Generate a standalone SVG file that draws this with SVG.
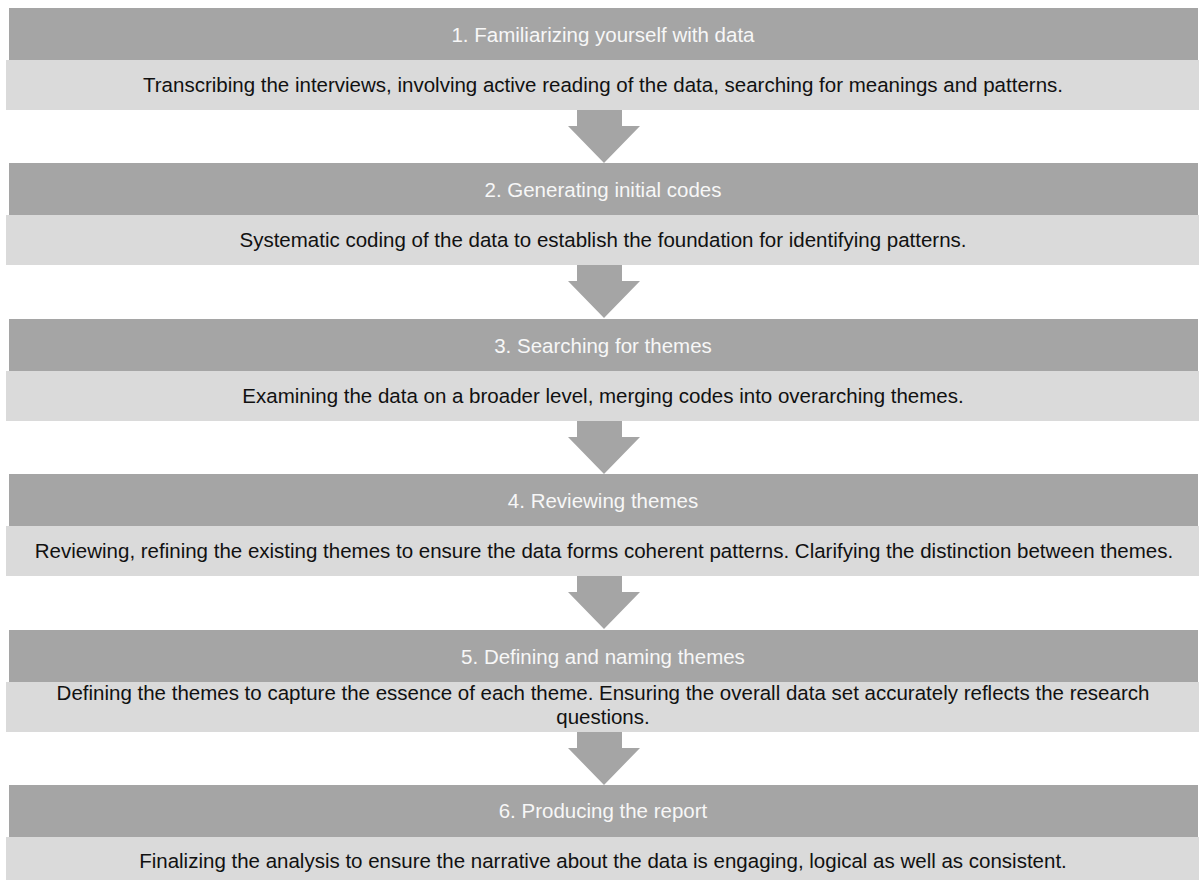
<svg xmlns="http://www.w3.org/2000/svg" width="1199" height="880" viewBox="0 0 1199 880">
<style>
.hd{fill:#a5a5a5}
.bd{fill:#dadada}
.ht{font-family:"Liberation Sans",Arial,sans-serif;font-size:20.5px;fill:#f7f7f7;text-anchor:middle}
.bt{font-family:"Liberation Sans",Arial,sans-serif;font-size:20.5px;fill:#111;text-anchor:middle}
.ar{fill:#a5a5a5}
</style>
<rect width="1199" height="880" fill="#fff"/>
<g id="step1">
<rect class="hd" x="9" y="8" width="1189" height="52"/>
<rect class="bd" x="6" y="60" width="1193" height="50"/>
<text class="ht" x="603" y="42">1. Familiarizing yourself with data</text>
<text class="bt" x="603" y="92">Transcribing the interviews, involving active reading of the data, searching for meanings and patterns.</text>
</g>
<g id="step2">
<rect class="hd" x="9" y="163" width="1189" height="52"/>
<rect class="bd" x="6" y="215" width="1193" height="50"/>
<text class="ht" x="603" y="197">2. Generating initial codes</text>
<text class="bt" x="603" y="247">Systematic coding of the data to establish the foundation for identifying patterns.</text>
</g>
<g id="step3">
<rect class="hd" x="9" y="319" width="1189" height="52"/>
<rect class="bd" x="6" y="371" width="1193" height="50"/>
<text class="ht" x="603" y="353">3. Searching for themes</text>
<text class="bt" x="603" y="403">Examining the data on a broader level, merging codes into overarching themes.</text>
</g>
<g id="step4">
<rect class="hd" x="9" y="474" width="1189" height="52"/>
<rect class="bd" x="6" y="526" width="1193" height="50"/>
<text class="ht" x="603" y="508">4. Reviewing themes</text>
<text class="bt" x="604" y="558">Reviewing, refining the existing themes to ensure the data forms coherent patterns. Clarifying the distinction between themes.</text>
</g>
<g id="step5">
<rect class="hd" x="9" y="630" width="1189" height="52"/>
<rect class="bd" x="6" y="682" width="1193" height="50"/>
<text class="ht" x="603" y="664">5. Defining and naming themes</text>
<text class="bt" x="603" y="700">Defining the themes to capture the essence of each theme. Ensuring the overall data set accurately reflects the research</text>
<text class="bt" x="603" y="724">questions.</text>
</g>
<g id="step6">
<rect class="hd" x="9" y="785" width="1189" height="52"/>
<rect class="bd" x="6" y="837" width="1193" height="50"/>
<text class="ht" x="603" y="818">6. Producing the report</text>
<text class="bt" x="603" y="868">Finalizing the analysis to ensure the narrative about the data is engaging, logical as well as consistent.</text>
</g>
<g id="connectors">
<polygon class="ar" points="577,110 622,110 622,126 640,126 604,163 568,126 577,126"/>
<polygon class="ar" points="577,265 622,265 622,281 640,281 604,318 568,281 577,281"/>
<polygon class="ar" points="577,421 622,421 622,437 640,437 604,474 568,437 577,437"/>
<polygon class="ar" points="577,576 622,576 622,592 640,592 604,629 568,592 577,592"/>
<polygon class="ar" points="577,732 622,732 622,748 640,748 604,785 568,748 577,748"/>
</g>
</svg>
